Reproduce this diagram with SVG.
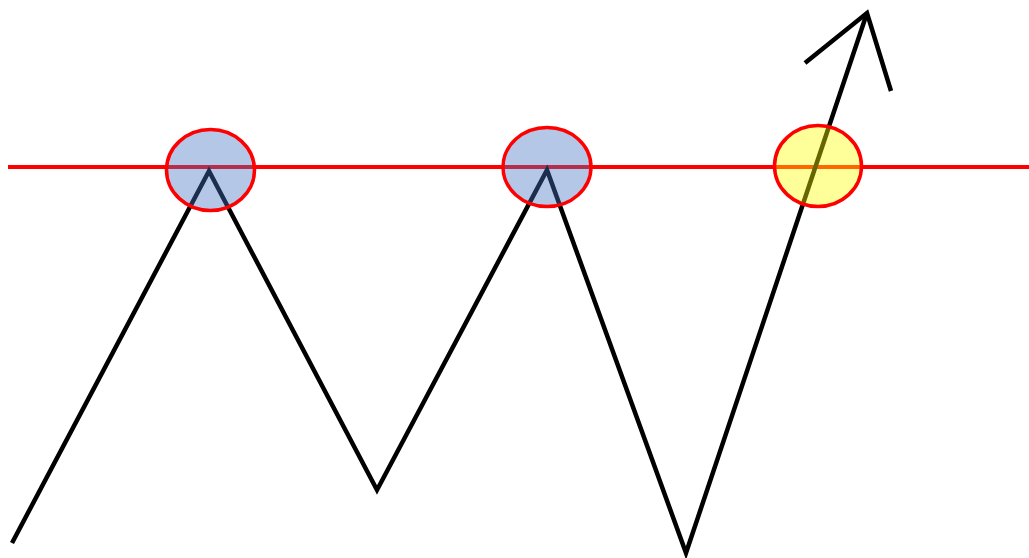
<svg xmlns="http://www.w3.org/2000/svg" width="1029" height="558" viewBox="0 0 1029 558">
<style>
.ln{fill:none;stroke-linecap:butt;stroke-linejoin:miter}
.red{stroke:#ff0000;stroke-width:4}
.blk{stroke:#000000;stroke-width:4.5}
.ell{stroke:#ff0000;stroke-width:3.5}
.blue{fill:#4472c4;fill-opacity:0.4}
.yel{fill:#ffff00;fill-opacity:0.4}
</style>
<rect width="1029" height="558" fill="#ffffff"/>
<g id="connectors">
<line class="ln red" x1="8" y1="167" x2="1029" y2="167"/>
<polyline class="ln blk" points="12,543 209,171 377,490 547,170 686,553 867,13"/>
<polyline class="ln blk" points="805,63 867,13 891,91"/>
</g>
<g id="peak1"><ellipse class="ell blue" cx="210.5" cy="170" rx="44" ry="40.5"/></g>
<g id="peak2"><ellipse class="ell blue" cx="547" cy="167" rx="44" ry="39.5"/></g>
<g id="breakout"><ellipse class="ell yel" cx="818" cy="166" rx="43.5" ry="40.5"/></g>
</svg>
